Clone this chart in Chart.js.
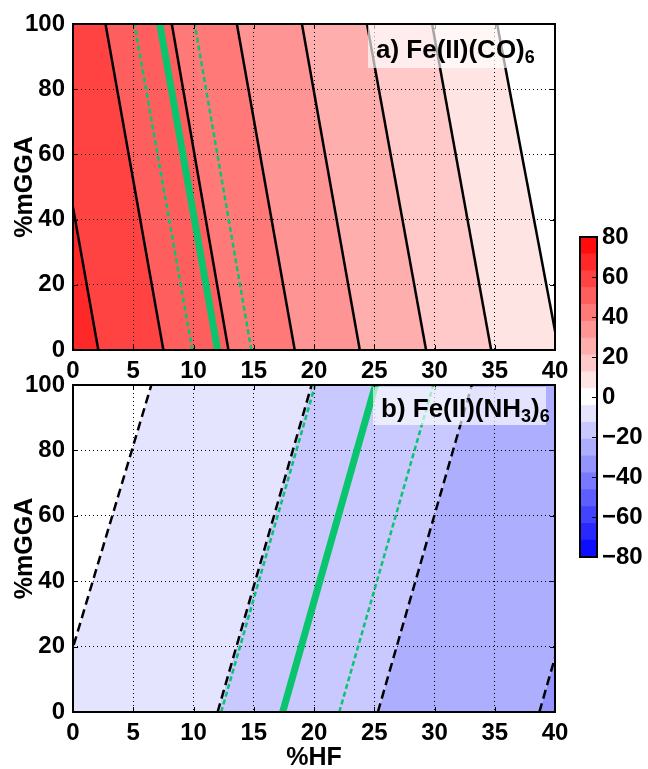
<!DOCTYPE html>
<html>
<head>
<meta charset="utf-8">
<script src="https://cdn.jsdelivr.net/npm/chart.js@4.4.1/dist/chart.umd.min.js"></script>
<style>
  html, body { margin: 0; padding: 0; background: #fff; }
  #page { position: relative; width: 648px; height: 769px; overflow: hidden; }
  #page canvas { position: absolute; left: 0; top: 0; }
  .tag {
    position: absolute; box-sizing: border-box; width: 173px;
    background: rgba(255, 255, 255, 0.65); color: #000; white-space: nowrap;
    font: bold 26px "Liberation Sans", Arial, sans-serif; line-height: 26px;
    padding-left: 8px;
  }
  .tag sub { font-size: 18px; line-height: 0; vertical-align: -5px; }
</style>
</head>
<body>
<div id="page">
  <canvas id="panel-co" width="648" height="769"></canvas>
  <canvas id="panel-nh" width="648" height="769"></canvas>
  <canvas id="colorbar" width="648" height="769"></canvas>
  <div class="tag" style="left:368px; top:25px; height:43px; padding-top:11px;">a) Fe(II)(CO)<sub>6</sub></div>
  <div class="tag" style="left:373px; top:387px; height:38px; padding-top:8px;">b) Fe(II)(NH<sub>3</sub>)<sub>6</sub></div>
</div>
<script>
// contour levels shared by both panels and the colour bar
const levels = [-80, -71.58, -63.16, -54.74, -46.32, -37.89, -29.47, -21.05, -12.63, -4.21,
                4.21, 12.63, 21.05, 29.47, 37.89, 46.32, 54.74, 63.16, 71.58, 80];
const hfRange = [0, 40];
const mggaEnds = [0, 100];

// a) Fe(II)(CO)6 - each contour line given by its %HF at %mGGA = 0 and at %mGGA = 100
const coLevels = [63.16, 54.74, 46.32, 37.89, 29.47, 21.05, 12.63, 4.21];
const coHFat0 = [2.1, 7.5, 12.9, 18.4, 23.8, 29.3, 34.7, 40.3];
const coHFat100 = [-2.7, 2.7, 8.2, 13.6, 19.0, 24.4, 29.8, 35.2];
const coGreenAt0 = [12.0, 9.9, 14.8];
const coGreenAt100 = [7.2, 5.1, 10.1];

// b) Fe(II)(NH3)6
const nhLevels = [-4.21, -12.63, -21.05, -29.47];
const nhHFat0 = [-1.6, 12.0, 25.3, 38.7];
const nhHFat100 = [6.5, 19.8, 33.1, 46.5];
const nhGreenAt0 = [17.4, 12.3, 22.1];
const nhGreenAt100 = [25.1, 20.1, 29.9];

const GREEN = 'rgb(10,196,110)';
const FONT = '"Liberation Sans", Arial, sans-serif';

Chart.defaults.font.family = FONT;
Chart.defaults.font.weight = 'bold';
Chart.defaults.color = '#000';

// blue-white-red map over the full level range
function bwr(v) {
    const t = (v - levels[0]) / (levels[levels.length - 1] - levels[0]);
    let r, g, b;
    if (t < 0.5) {
        r = g = 2 * t; b = 1;
    } else {
        r = 1; g = b = 2 * (1 - t);
    }
    return 'rgb(' + Math.round(r * 255) + ',' + Math.round(g * 255) + ',' + Math.round(b * 255) + ')';
}
function bandColor(lo, hi) {
    return bwr((lo + hi) / 2);
}

function segment(at0, at100) {
    return [{x: at0, y: mggaEnds[0]}, {x: at100, y: mggaEnds[1]}];
}

function buildDatasets(lineLevels, at0, at100, greenAt0, greenAt100) {
    const datasets = [];
    const n = lineLevels.length;
    // filled bands between neighbouring contour lines; the outer two run past the axis ends
    // and get clipped to the plot area
    const farLeft = hfRange[0] - 10;
    const farRight = hfRange[1] + 10;
    for (let i = 0; i <= n; i++) {
        const left0 = i === 0 ? farLeft : at0[i - 1];
        const left100 = i === 0 ? farLeft : at100[i - 1];
        const right0 = i === n ? farRight : at0[i];
        const right100 = i === n ? farRight : at100[i];
        const upper = i === 0 ? levels[levels.indexOf(lineLevels[0]) + 1] : lineLevels[i - 1];
        const lower = i === n ? levels[levels.indexOf(lineLevels[n - 1]) - 1] : lineLevels[i];
        datasets.push({
            data: [
                {x: left0, y: mggaEnds[0]}, {x: right0, y: mggaEnds[0]},
                {x: right100, y: mggaEnds[1]}, {x: left100, y: mggaEnds[1]},
            ],
            backgroundColor: bandColor(lower, upper),
            borderColor: 'rgba(0,0,0,0)',
            borderWidth: 0,
            fill: 'shape',
            order: 2,
        });
    }
    // contour lines, dashed for negative levels
    lineLevels.forEach(function(level, i) {
        datasets.push({
            data: segment(at0[i], at100[i]),
            borderColor: '#000',
            borderWidth: 2.5,
            borderDash: level < 0 ? [9, 5] : [],
            fill: false,
            clip: 0,
            order: 1,
        });
    });
    // green guide lines: solid centre, dotted bounds
    greenAt0.forEach(function(v, i) {
        datasets.push({
            data: segment(v, greenAt100[i]),
            borderColor: GREEN,
            borderWidth: i === 0 ? 7 : 2.5,
            borderDash: i === 0 ? [] : [5, 3],
            fill: false,
            clip: 0,
            order: 0,
        });
    });
    return datasets;
}

// box around the plot area with inward ticks, drawn over the data
const frame = {
    id: 'frame',
    afterDatasetsDraw(chart) {
        const ctx = chart.ctx;
        const a = chart.chartArea;
        const xs = chart.scales.x;
        const ys = chart.scales.y;
        ctx.save();
        ctx.strokeStyle = '#000';
        ctx.lineWidth = 1;
        ctx.beginPath();
        xs.ticks.forEach(function(t) {
            const px = Math.round(xs.getPixelForValue(t.value)) + 0.5;
            ctx.moveTo(px, a.bottom); ctx.lineTo(px, a.bottom - 5);
            ctx.moveTo(px, a.top); ctx.lineTo(px, a.top + 5);
        });
        ys.ticks.forEach(function(t) {
            const py = Math.round(ys.getPixelForValue(t.value)) + 0.5;
            ctx.moveTo(a.left, py); ctx.lineTo(a.left + 5, py);
            ctx.moveTo(a.right, py); ctx.lineTo(a.right - 5, py);
        });
        ctx.stroke();
        ctx.lineWidth = 2;
        ctx.strokeRect(a.left, a.top, a.right - a.left, a.bottom - a.top);
        ctx.restore();
    }
};

function makePanel(canvasId, datasets, opts) {
    return new Chart(document.getElementById(canvasId), {
        type: 'line',
        data: {datasets: datasets},
        options: {
            responsive: false,
            animation: false,
            events: [],
            layout: {padding: {left: 0, top: opts.top, right: 93, bottom: opts.bottom}},
            elements: {point: {radius: 0}, line: {tension: 0}},
            plugins: {
                legend: {display: false},
                tooltip: {enabled: false},
                filler: {drawTime: 'beforeDraw'},
            },
            scales: {
                x: {
                    type: 'linear',
                    min: hfRange[0],
                    max: hfRange[1],
                    ticks: {stepSize: 5, padding: 9, maxRotation: 0, font: {size: 24, weight: 'bold', lineHeight: 1}},
                    grid: {color: '#000', lineWidth: 1, drawTicks: false},
                    border: {display: false, dash: [1, 3]},
                    title: {
                        display: opts.xTitle,
                        text: '%HF',
                        font: {size: 25, weight: 'bold', lineHeight: 0.84},
                        padding: {top: 0, bottom: 0},
                    },
                    afterFit: function(scale) { scale.height = opts.xHeight; },
                },
                y: {
                    type: 'linear',
                    min: mggaEnds[0],
                    max: mggaEnds[1],
                    ticks: {stepSize: 20, padding: 8, font: {size: 24, weight: 'bold', lineHeight: 1}},
                    grid: {color: '#000', lineWidth: 1, drawTicks: false},
                    border: {display: false, dash: [1, 3]},
                    title: {
                        display: true,
                        text: '%mGGA',
                        font: {size: 25, weight: 'bold', lineHeight: 1},
                        padding: {top: 13, bottom: 0},
                    },
                    afterFit: function(scale) { scale.width = 73; },
                },
            },
        },
        plugins: [frame],
    });
}

makePanel('panel-co', buildDatasets(coLevels, coHFat0, coHFat100, coGreenAt0, coGreenAt100),
    {top: 24, bottom: 389, xHeight: 30, xTitle: false});
makePanel('panel-nh', buildDatasets(nhLevels, nhHFat0, nhHFat100, nhGreenAt0, nhGreenAt100),
    {top: 385, bottom: 0, xHeight: 57, xTitle: true});

// colour bar: one floating bar per band
const cbFrame = {
    id: 'cbFrame',
    afterDatasetsDraw(chart) {
        const ctx = chart.ctx;
        const a = chart.chartArea;
        const ys = chart.scales.y;
        ctx.save();
        ctx.strokeStyle = '#000';
        ctx.lineWidth = 1;
        ctx.beginPath();
        ys.ticks.forEach(function(t) {
            const py = Math.round(ys.getPixelForValue(t.value)) + 0.5;
            ctx.moveTo(a.right, py); ctx.lineTo(a.right - 5, py);
        });
        ctx.stroke();
        ctx.lineWidth = 2;
        ctx.strokeRect(a.left, a.top, a.right - a.left, a.bottom - a.top);
        ctx.restore();
    }
};

new Chart(document.getElementById('colorbar'), {
    type: 'bar',
    data: {
        labels: [''],
        datasets: levels.slice(0, -1).map(function(lo, i) {
            return {
                data: [[lo, levels[i + 1]]],
                backgroundColor: bandColor(lo, levels[i + 1]),
                borderWidth: 0,
                grouped: false,
                barPercentage: 1,
                categoryPercentage: 1,
            };
        }),
    },
    options: {
        responsive: false,
        animation: false,
        events: [],
        layout: {padding: {left: 580, top: 237, right: 0, bottom: 212}},
        plugins: {legend: {display: false}, tooltip: {enabled: false}},
        scales: {
            x: {display: false},
            y: {
                position: 'right',
                min: levels[0],
                max: levels[levels.length - 1],
                ticks: {
                    stepSize: 20,
                    padding: 5,
                    font: {size: 24, weight: 'bold', lineHeight: 1},
                    callback: function(value) {
                        return value < 0 ? '\u2212' + Math.abs(value) : String(value);
                    },
                },
                grid: {display: false, drawTicks: false},
                border: {display: false},
                afterFit: function(scale) { scale.width = 51; },
            },
        },
    },
    plugins: [cbFrame],
});
</script>
</body>
</html>
